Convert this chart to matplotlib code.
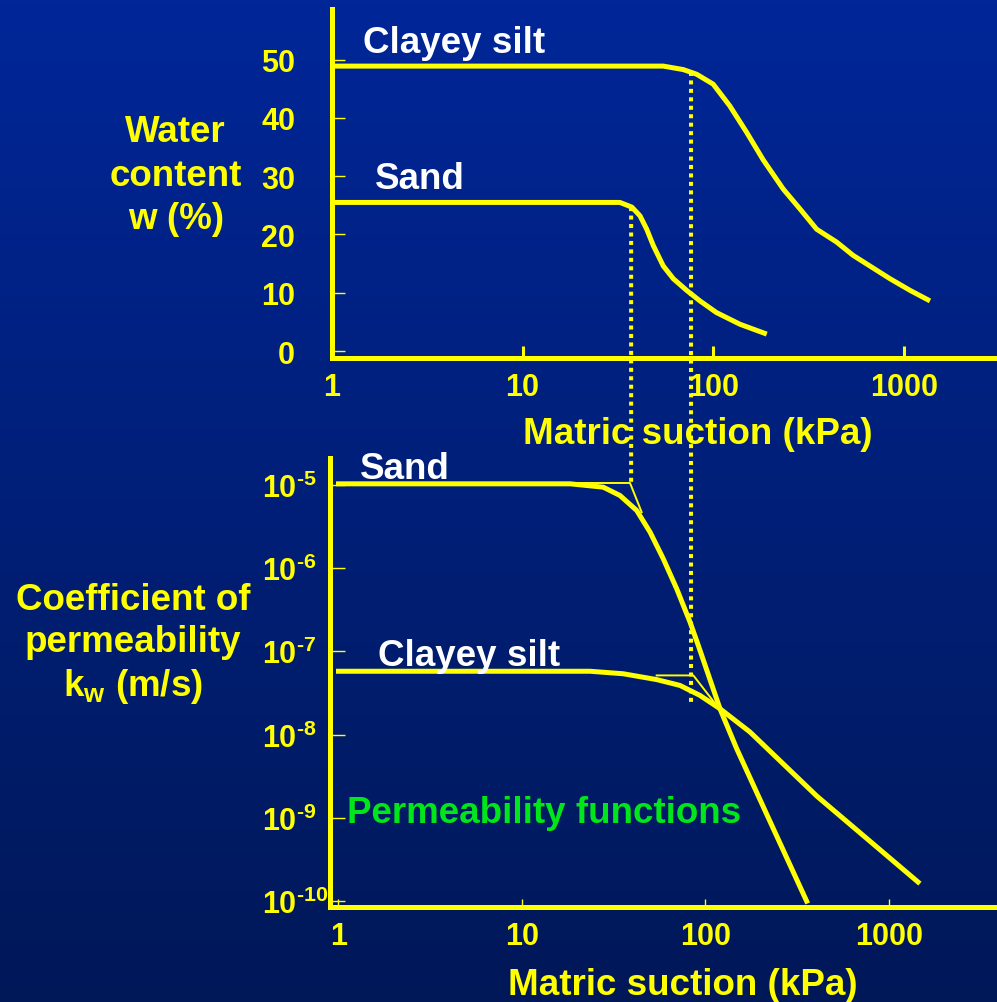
import numpy as np
import matplotlib.pyplot as plt
from matplotlib.patches import ConnectionPatch
from matplotlib.ticker import NullLocator
from matplotlib.transforms import blended_transform_factory

plt.rcParams['font.family'] = ['Liberation Sans', 'DejaVu Sans']
plt.rcParams['font.weight'] = 'bold'
plt.rcParams['mathtext.fontset'] = 'custom'
plt.rcParams['mathtext.rm'] = 'Liberation Sans:bold'
plt.rcParams['mathtext.bf'] = 'Liberation Sans:bold'
plt.rcParams['mathtext.default'] = 'bf'

# soil-water characteristic curves (water content, %)
clay_suction = [1, 20, 36.6, 54.7, 69.7, 81.9, 100, 122, 150, 183, 233, 285, 349, 444,
                543, 847, 1079, 1372]
clay_w = [48.9, 48.9, 48.9, 48.9, 48.3, 47.5, 45.8, 42.1, 37.5, 32.8, 27.8, 24.4, 20.9,
          18.7, 16.4, 12.4, 10.4, 8.6]
sand_suction = [1, 25.5, 32.4, 37.4, 41.3, 44.8, 48.5, 54.7, 61.8, 72.6, 85.2, 104, 138, 191]
sand_w = [25.5, 25.5, 25.5, 24.7, 23.2, 20.9, 18.1, 14.6, 12.4, 10.4, 8.6, 6.6, 4.6, 2.9]

# permeability functions (log10 of k_w, m/s)
sand_k_suction = [1, 18.3, 27.7, 34.2, 42.2, 49.9, 58.9, 69.7, 82.4, 91.4, 120, 148, 216, 356]
sand_logk = [-4.99, -4.99, -5.03, -5.13, -5.31, -5.57, -5.89, -6.25, -6.65, -6.93, -7.69,
             -8.17, -8.96, -10.0]
clay_k_suction = [1, 23.5, 35.6, 54.2, 72.6, 93.3, 120, 175, 405, 1440]
clay_logk = [-7.24, -7.24, -7.27, -7.34, -7.41, -7.53, -7.69, -7.97, -8.74, -9.77]

# thin asymptote construction lines
sand_asym_suction = [18.3, 38.8, 44.9]
sand_asym_logk = [-4.98, -4.98, -5.33]
clay_asym_suction = [54.2, 85.9, 115]
clay_asym_logk = [-7.29, -7.29, -7.65]

# air-entry values (dotted lines)
sand_aev = 37.1
clay_aev = 76.5

x_ticks = [1, 10, 100, 1000]
x_labels = ['1', '10', '100', '1000']
w_ticks = [0, 10, 20, 30, 40, 50]
k_ticks = [1e-5, 1e-6, 1e-7, 1e-8, 1e-9, 1e-10]
k_labels = [r'$10^{\text{-}5}$', r'$10^{\text{-}6}$', r'$10^{\text{-}7}$',
            r'$10^{\text{-}8}$', r'$10^{\text{-}9}$', r'$10^{\text{-}10}$']

YEL = '#ffff00'
W, H = 997, 1003

fig = plt.figure(figsize=(W / 100, H / 100), dpi=100)

# background gradient
bg = fig.add_axes([0, 0, 1, 1], zorder=-10)
top_c = np.array([0, 38, 152]) / 255
bot_c = np.array([0, 24, 88]) / 255
t = np.linspace(0, 1, 256)[:, None, None]
grad = top_c * (1 - t) + bot_c * t
bg.imshow(grad, aspect='auto', extent=[0, 1, 0, 1])
bg.axis('off')

# ---- top: water content
ax1 = fig.add_axes([332 / W, 1 - 359 / H, 665 / W, 349 / H])
ax1.set_facecolor('none')
ax1.set_xscale('log')
ax1.set_xlim(1, 3083)
ax1.set_ylim(-1.2, 58.7)
ax1.plot(clay_suction, clay_w, color=YEL, lw=3.6, solid_capstyle='butt', solid_joinstyle='round')
ax1.plot(sand_suction, sand_w, color=YEL, lw=3.6, solid_capstyle='butt', solid_joinstyle='round')

# ---- bottom: permeability
ax2 = fig.add_axes([330 / W, 1 - 908 / H, 667 / W, 449 / H])
ax2.set_facecolor('none')
ax2.set_xscale('log')
ax2.set_yscale('log')
ax2.set_xlim(0.899, 3880)
ax2.set_ylim(10 ** -10.07, 10 ** -4.68)
ax2.plot(sand_k_suction, 10.0 ** np.array(sand_logk), color=YEL, lw=3.6, clip_on=False,
         solid_joinstyle='round')
ax2.plot(clay_k_suction, 10.0 ** np.array(clay_logk), color=YEL, lw=3.6,
         solid_joinstyle='round')
ax2.plot(sand_asym_suction, 10.0 ** np.array(sand_asym_logk), color=YEL, lw=1.4)
ax2.plot(clay_asym_suction, 10.0 ** np.array(clay_asym_logk), color=YEL, lw=1.4)

for ax in (ax1, ax2):
    for s in ('top', 'right'):
        ax.spines[s].set_visible(False)
    for s in ('left', 'bottom'):
        ax.spines[s].set_color(YEL)
        ax.spines[s].set_linewidth(3.6)
    ax.set_xticks(x_ticks, x_labels)
    ax.xaxis.set_minor_locator(NullLocator())
    ax.yaxis.set_minor_locator(NullLocator())
    ax.tick_params(axis='both', colors=YEL, labelcolor=YEL, labelsize=22, direction='in')

ax1.tick_params(axis='x', length=9, width=2.2, pad=10)
ax1.set_yticks(w_ticks, [str(v) for v in w_ticks])
ax1.tick_params(axis='y', length=9, width=1, pad=26.6)

ax2.tick_params(axis='x', length=6, width=1, pad=10)
ax2.set_yticks(k_ticks, k_labels)
ax2.tick_params(axis='y', length=11, width=1, pad=49)
for lab in ax2.get_yticklabels():
    lab.set_ha('left')

# axis titles
ax1.text(0.55, -0.2436, 'Matric suction (kPa)', transform=ax1.transAxes,
         ha='center', va='baseline', color=YEL, fontsize=26.5)
ax2.text(0.529, -0.1938, 'Matric suction (kPa)', transform=ax2.transAxes,
         ha='center', va='baseline', color=YEL, fontsize=26.5)
ax1.text(-0.235, 0.524, 'Water\ncontent\nw (%)', transform=ax1.transAxes,
         ha='center', va='center', color=YEL, fontsize=26.5, linespacing=1.32)
ax2.text(-0.295, 0.586, 'Coefficient of\npermeability\n' + r'k$_w$' + ' (m/s)',
         transform=ax2.transAxes, ha='center', va='center', color=YEL,
         fontsize=26.5, linespacing=1.25)

# curve labels
ax1.text(1.455, 51.3, 'Clayey silt', color='white', fontsize=26.5, va='baseline')
ax1.text(1.68, 28.0, 'Sand', color='white', fontsize=26.5, va='baseline')
ax2.text(1.31, 10 ** -4.92, 'Sand', color='white', fontsize=26.5, va='baseline')
ax2.text(1.64, 10 ** -7.17, 'Clayey silt', color='white', fontsize=26.5, va='baseline')
ax2.text(1.11, 10 ** -9.05, 'Permeability functions', color='#00e61a', fontsize=26.5,
         va='baseline')

# dotted air-entry lines running through both panels
mixed = blended_transform_factory(ax1.transData, ax2.transData)
for x, w0, k1 in [(sand_aev, 24.7, 10 ** -4.99), (clay_aev, 47.9, 10 ** -7.65)]:
    cp = ConnectionPatch(xyA=(x, w0), coordsA=ax1.transData, xyB=(x, k1), coordsB=mixed,
                         color=YEL, lw=2.9, linestyle=(0, (1, 1.1)), capstyle='butt')
    fig.add_artist(cp)

fig.savefig('out.png', dpi=100)
